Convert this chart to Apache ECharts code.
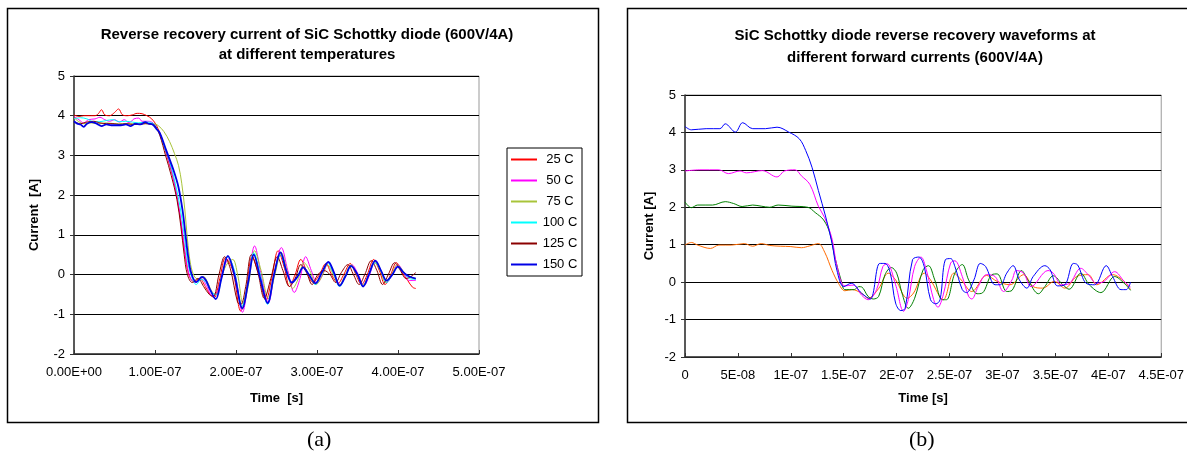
<!DOCTYPE html>
<html>
<head>
<meta charset="utf-8">
<script src="https://cdn.jsdelivr.net/npm/echarts@6/dist/echarts.min.js"></script>
<style>
  html, body { margin: 0; padding: 0; background: #fff; }
  #chart { width: 1187px; height: 460px; }
</style>
</head>
<body>
<div id="chart"></div>
<script>
// (a) reverse recovery current vs temperature, time in ns, current in A
var tempNames = ['25 C', '50 C', '75 C', '100 C', '125 C', '150 C'];
var tempColors = ['#ff0000', '#ff00ff', '#a8c43a', '#00ffff', '#8b0000', '#0000e6'];

var t25 = [[0,4.02],[6,3.98],[12,4.0],[20,4.0],[26,4.0],[30,4.05],[34,4.15],[38,4.02],[44,4.0],[50,4.08],[55,4.17],[60,4.02],[66,4.0],[72,4.02],[78,4.06],[84,4.05],[90,4.0],[96,3.92],[102,3.75],[108,3.45],[116,2.9],[124,2.3],[130,1.6],[134,1.0],[138,0.4],[142,-0.02],[148,-0.18],[155,-0.1],[162,-0.3],[168,-0.5],[173,-0.58],[180,-0.1],[187,0.42],[196,0.1],[206,-0.92],[212,-0.5],[220,0.45],[228,0.0],[237,-0.65],[244,-0.1],[252,0.6],[260,0.15],[266,-0.3],[273,0.0],[280,0.38],[287,0.1],[295,-0.2],[303,0.0],[311,0.28],[318,0.0],[326,-0.22],[333,0.0],[341,0.28],[348,0.0],[355,-0.25],[362,0.0],[370,0.38],[377,0.1],[384,-0.25],[391,0.0],[398,0.3],[405,0.05],[412,-0.15],[418,-0.32],[422,-0.35]];
var t50 = [[0,3.98],[6,3.9],[12,3.82],[18,3.9],[26,3.92],[32,3.96],[38,3.9],[44,3.86],[50,3.9],[56,3.84],[62,3.9],[68,3.82],[74,3.92],[80,3.94],[84,3.86],[90,3.86],[96,3.84],[102,3.7],[110,3.3],[118,2.8],[125,2.2],[131,1.5],[135,0.9],[139,0.3],[144,-0.1],[150,-0.2],[157,-0.1],[164,-0.3],[171,-0.55],[177,-0.45],[184,0.1],[191,0.4],[199,0.0],[208,-0.95],[215,-0.2],[223,0.72],[231,0.0],[240,-0.7],[248,0.1],[256,0.68],[264,0.1],[272,-0.45],[279,-0.1],[286,0.45],[293,0.1],[300,-0.22],[307,0.0],[314,0.3],[321,0.0],[329,-0.25],[336,0.0],[343,0.25],[351,0.0],[358,-0.28],[365,0.0],[372,0.35],[379,0.1],[386,-0.2],[393,0.0],[400,0.25],[407,0.05],[414,-0.15],[422,-0.15]];
var t75 = [[0,3.95],[6,3.85],[12,3.8],[20,3.82],[30,3.8],[40,3.82],[50,3.8],[60,3.8],[70,3.8],[80,3.8],[90,3.8],[98,3.8],[104,3.75],[111,3.6],[118,3.35],[124,3.05],[129,2.75],[133,2.3],[137,1.6],[140,0.9],[144,0.25],[149,-0.06],[155,-0.12],[160,-0.05],[165,-0.2],[171,-0.45],[176,-0.5],[183,0.0],[190,0.3],[196,0.38],[202,0.0],[209,-0.75],[215,-0.3],[223,0.6],[231,0.1],[240,-0.6],[248,0.0],[256,0.55],[263,0.1],[270,-0.35],[277,-0.1],[284,0.3],[291,0.1],[299,-0.25],[306,-0.05],[313,0.25],[320,0.0],[328,-0.25],[335,0.0],[342,0.25],[349,0.0],[357,-0.25],[364,0.0],[371,0.3],[378,0.1],[385,-0.2],[392,0.0],[399,0.25],[406,0.1],[413,-0.05],[422,-0.1]];
var t100 = [[0,3.92],[8,3.95],[16,3.92],[24,3.85],[32,3.85],[40,3.88],[48,3.9],[56,3.85],[64,3.86],[72,3.84],[80,3.82],[88,3.84],[96,3.82],[102,3.7],[110,3.3],[118,2.85],[125,2.3],[131,1.7],[136,1.0],[140,0.35],[145,-0.05],[151,-0.25],[157,-0.12],[163,-0.2],[170,-0.45],[176,-0.5],[183,0.0],[190,0.45],[198,0.1],[207,-0.82],[214,-0.3],[222,0.55],[230,0.0],[239,-0.75],[247,0.0],[255,0.5],[262,0.1],[269,-0.2],[276,-0.05],[283,0.18],[290,0.0],[298,-0.25],[305,0.0],[313,0.3],[320,0.05],[328,-0.3],[335,-0.05],[342,0.2],[350,0.0],[357,-0.3],[364,0.0],[372,0.3],[379,0.1],[386,-0.2],[393,0.0],[400,0.2],[407,0.05],[414,-0.1],[422,-0.12]];
var t125 = [[0,3.85],[8,3.8],[16,3.84],[24,3.86],[32,3.82],[40,3.8],[48,3.8],[56,3.78],[64,3.8],[72,3.78],[80,3.78],[88,3.8],[96,3.78],[100,3.75],[106,3.5],[113,3.0],[120,2.5],[127,1.9],[132,1.2],[136,0.5],[140,0.0],[146,-0.2],[153,-0.1],[160,-0.3],[167,-0.5],[172,-0.55],[179,0.0],[186,0.45],[193,0.15],[202,-0.7],[206,-0.75],[212,-0.3],[219,0.5],[227,0.05],[235,-0.6],[243,-0.1],[251,0.45],[258,0.1],[266,-0.3],[273,-0.1],[280,0.25],[287,0.05],[294,-0.25],[301,0.0],[309,0.1],[316,0.0],[323,-0.2],[330,0.05],[338,0.25],[345,0.0],[352,-0.25],[359,0.0],[367,0.35],[374,0.1],[381,-0.25],[388,0.0],[396,0.3],[403,0.1],[410,-0.1],[416,-0.05],[422,0.05]];
var t150 = [[0,3.86],[4,3.8],[8,3.78],[12,3.72],[16,3.8],[22,3.84],[28,3.8],[34,3.74],[40,3.78],[46,3.76],[52,3.76],[58,3.76],[64,3.78],[70,3.74],[76,3.8],[82,3.78],[88,3.84],[92,3.8],[97,3.78],[102,3.66],[106,3.56],[114,3.12],[123,2.62],[129,2.2],[134,1.62],[137.5,1.03],[141,0.44],[145,0.02],[151,-0.19],[158,-0.06],[163,-0.15],[168,-0.38],[175,-0.62],[182,-0.1],[190,0.47],[198,0.0],[208,-0.85],[215,-0.2],[222,0.5],[230,-0.1],[239,-0.72],[247,0.0],[255,0.56],[262,0.1],[269,-0.2],[276,-0.05],[283,0.18],[290,0.0],[298,-0.22],[306,0.05],[314,0.32],[321,0.05],[328,-0.28],[335,-0.05],[342,0.22],[350,0.0],[357,-0.3],[364,0.0],[372,0.35],[379,0.1],[386,-0.15],[393,0.0],[400,0.2],[407,0.05],[414,-0.05],[422,-0.1]];
var tempData = [t25, t50, t75, t100, t125, t150];

// (b) waveforms at different forward currents
var ampColors = ['#ff6a00', '#008000', '#ff00ff', '#0000ff'];
var a1 = [[0,0.99],[6,1.06],[12,0.99],[24,0.9],[32,0.99],[44,0.99],[56,1.03],[64,0.96],[72,1.03],[80,0.98],[90,0.96],[100,0.95],[110,0.92],[118,0.97],[126,1.03],[132,0.8],[139,0.31],[145,-0.03],[151,-0.23],[158,-0.2],[167,-0.3],[173,-0.43],[183,-0.17],[192,0.24],[199,0.06],[210,-0.43],[216,-0.29],[226,0.24],[232,0.06],[244,-0.47],[254,0.24],[261,0.06],[271,-0.25],[285,0.18],[295,0.02],[307,-0.07],[320,0.2],[329,-0.12],[338,-0.16],[349,0.02],[359,-0.16],[370,0.15],[381,0.2],[389,-0.07],[404,0.2],[415,0.02],[421,-0.2]];
var a2 = [[0,2.14],[6,1.99],[12,2.06],[26,2.06],[38,2.15],[46,2.1],[54,2.02],[64,2.06],[72,2.03],[80,2.0],[88,2.06],[101,2.03],[116,2.0],[123,1.86],[131,1.66],[137,1.3],[141.5,0.68],[148,0.0],[151,-0.2],[160,-0.2],[164,-0.12],[167,-0.13],[173,-0.38],[178,-0.45],[183,-0.38],[189,0.2],[195,0.39],[200,0.24],[205,-0.29],[211,-0.7],[217,-0.43],[225,0.33],[230,0.44],[236,0.06],[243,-0.47],[247,-0.47],[255,0.24],[262,0.47],[268,0.06],[276,-0.31],[281,-0.29],[290,0.2],[295,0.22],[304,-0.25],[309,-0.22],[318,0.31],[324,0.06],[334,-0.31],[340,-0.12],[348,0.17],[357,-0.07],[363,-0.19],[374,0.24],[382,-0.07],[393,-0.28],[406,0.15],[415,-0.03],[421,-0.22]];
var a3 = [[0,2.97],[14,3.0],[32,3.0],[41,2.9],[52,2.97],[58,2.92],[73,2.98],[87,2.81],[94,2.97],[104,3.0],[110,2.84],[118,2.61],[126,2.03],[132,1.72],[139,1.15],[143.5,0.44],[151,-0.1],[159,-0.08],[167,-0.35],[173,-0.47],[181,-0.2],[187,0.42],[191,0.49],[199,-0.07],[206.5,-0.78],[211,-0.47],[217,0.42],[223,0.67],[228,0.33],[235,-0.47],[239,-0.67],[244,-0.34],[251,0.51],[255,0.57],[262,0.15],[268,-0.38],[271,-0.45],[277,-0.12],[285,0.2],[293,0.15],[301,-0.25],[309,0.06],[313,0.31],[320,0.24],[327,-0.12],[343,0.31],[348,0.24],[356,-0.07],[363,-0.04],[374,0.37],[381,0.2],[389,-0.03],[396,0.02],[406,0.28],[415,0.02],[421,-0.13]];
var a4 = [[0,4.16],[6,4.07],[20,4.1],[33,4.1],[38,4.23],[47.6,4.01],[54.5,4.26],[64,4.1],[76,4.1],[87,4.14],[98,4.01],[108,3.83],[114,3.52],[120,3.07],[126,2.45],[133,1.74],[139,1.03],[143.5,0.32],[150,-0.12],[157,-0.03],[167,-0.3],[175,-0.45],[184,0.5],[189,0.5],[194,0.24],[199,-0.56],[204,-0.76],[208,-0.7],[215,0.6],[221,0.67],[226,0.42],[232,-0.47],[237,-0.58],[241,-0.47],[246,0.6],[251,0.63],[255,0.42],[262,-0.2],[266,-0.28],[273,0.06],[279,0.5],[284,0.42],[293,-0.07],[298,-0.07],[304,0.24],[310,0.44],[316,0.06],[323,-0.16],[329,0.15],[340,0.44],[345,0.33],[352,-0.1],[359,-0.07],[367,0.5],[371,0.46],[379,-0.03],[387,-0.07],[398,0.44],[404,0.15],[412,-0.2],[417,-0.2],[421,0.0]];
var ampData = [a1, a2, a3, a4];

var yMin = -2, yMax = 5;
var font = '"Liberation Sans", Arial, sans-serif';

function sciLabel(v, digits) {
    if (v === 0 && digits === undefined) return '0';
    var s = (v / 1e9).toExponential(digits);
    var p = s.split('e');
    var e = parseInt(p[1], 10);
    return p[0] + 'E' + (e < 0 ? '-' : '+') + (Math.abs(e) < 10 ? '0' : '') + Math.abs(e);
}

function yAxisCfg(gridIndex, name, gap) {
    return {
        type: 'value', gridIndex: gridIndex, min: yMin, max: yMax, interval: 1,
        name: name, nameLocation: 'middle', nameGap: gap, nameRotate: 90,
        nameTextStyle: { fontFamily: font, fontWeight: 'bold', fontSize: 13, color: '#000' },
        axisLine: { show: true, lineStyle: { color: '#333', width: 1.5 } },
        axisTick: { show: true, inside: false, length: 4, lineStyle: { color: '#333' } },
        axisLabel: { fontFamily: font, fontSize: 13, color: '#000', margin: 9 },
        splitLine: { show: true, lineStyle: { color: '#000', width: 1 } }
    };
}

function xAxisCfg(gridIndex, name, gap, max, interval, digits) {
    return {
        type: 'value', gridIndex: gridIndex, min: 0, max: max, interval: interval,
        name: name, nameLocation: 'middle', nameGap: gap,
        nameTextStyle: { fontFamily: font, fontWeight: 'bold', fontSize: 13, color: '#000' },
        axisLine: { show: true, onZero: false, lineStyle: { color: '#333', width: 1.5 } },
        axisTick: { show: true, inside: true, length: 4, lineStyle: { color: '#333' } },
        axisLabel: { fontFamily: font, fontSize: 13, color: '#000', margin: 12,
            formatter: function (v) { return sciLabel(v, digits); } },
        splitLine: { show: false }
    };
}

var series = [];
for (var i = 0; i < tempNames.length; i++) {
    series.push({
        name: tempNames[i], type: 'line', xAxisIndex: 0, yAxisIndex: 0,
        data: tempData[i], showSymbol: false, smooth: 0.35,
        lineStyle: { color: tempColors[i], width: i === 5 ? 1.8 : 1 },
        itemStyle: { color: tempColors[i] }
    });
}
for (var j = 0; j < ampData.length; j++) {
    series.push({
        name: 'I' + (j + 1), type: 'line', xAxisIndex: 1, yAxisIndex: 1,
        data: ampData[j], showSymbol: false, smooth: 0.35,
        lineStyle: { color: ampColors[j], width: 1 },
        itemStyle: { color: ampColors[j] }
    });
}

var chart = echarts.init(document.getElementById('chart'), null, { renderer: 'canvas' });
chart.setOption({
    backgroundColor: '#fff',
    animation: false,
    title: [
        { text: 'Reverse recovery current of SiC Schottky diode (600V/4A)\nat different temperatures',
          left: 302, top: 20, textAlign: 'center',
          textStyle: { fontFamily: font, fontWeight: 'bold', fontSize: 15, lineHeight: 20, color: '#000' } },
        { text: 'SiC Schottky diode reverse recovery waveforms at\ndifferent forward currents (600V/4A)',
          left: 910, top: 20, textAlign: 'center',
          textStyle: { fontFamily: font, fontWeight: 'bold', fontSize: 15, lineHeight: 22, color: '#000' } }
    ],
    legend: {
        data: tempNames, orient: 'vertical', left: 507, top: 148,
        icon: 'rect', itemWidth: 26, itemHeight: 2, itemGap: 8,
        padding: [5, 4, 5, 4], borderColor: '#000', borderWidth: 1,
        formatter: function (n) { return '{a|' + n + '}'; },
        textStyle: { fontFamily: font, fontSize: 13, color: '#000',
            rich: { a: { width: 36, align: 'center', fontFamily: font, fontSize: 13, lineHeight: 14 } } }
    },
    grid: [
        { left: 74, top: 76, width: 405, height: 278, show: true, borderColor: '#999', borderWidth: 1, backgroundColor: 'transparent' },
        { left: 685, top: 95, width: 477, height: 262, show: true, borderColor: '#999', borderWidth: 1, backgroundColor: 'transparent' }
    ],
    xAxis: [
        xAxisCfg(0, 'Time  [s]', 38, 500, 100, 2),
        xAxisCfg(1, 'Time [s]', 35, 450, 50)
    ],
    yAxis: [
        yAxisCfg(0, 'Current  [A]', 33),
        yAxisCfg(1, 'Current [A]', 29)
    ],
    graphic: [
        { type: 'rect', shape: { x: 7.5, y: 8.5, width: 591, height: 414 }, style: { fill: 'none', stroke: '#000', lineWidth: 1.5 }, z: 100 },
        { type: 'rect', shape: { x: 627.5, y: 8.5, width: 570, height: 414 }, style: { fill: 'none', stroke: '#000', lineWidth: 1.5 }, z: 100 },
        { type: 'text', left: 307, top: 429, style: { text: '(a)', font: '22px "Liberation Serif", "Times New Roman", serif', fill: '#000' } },
        { type: 'text', left: 909, top: 429, style: { text: '(b)', font: '22px "Liberation Serif", "Times New Roman", serif', fill: '#000' } }
    ],
    series: series
});
</script>
</body>
</html>
